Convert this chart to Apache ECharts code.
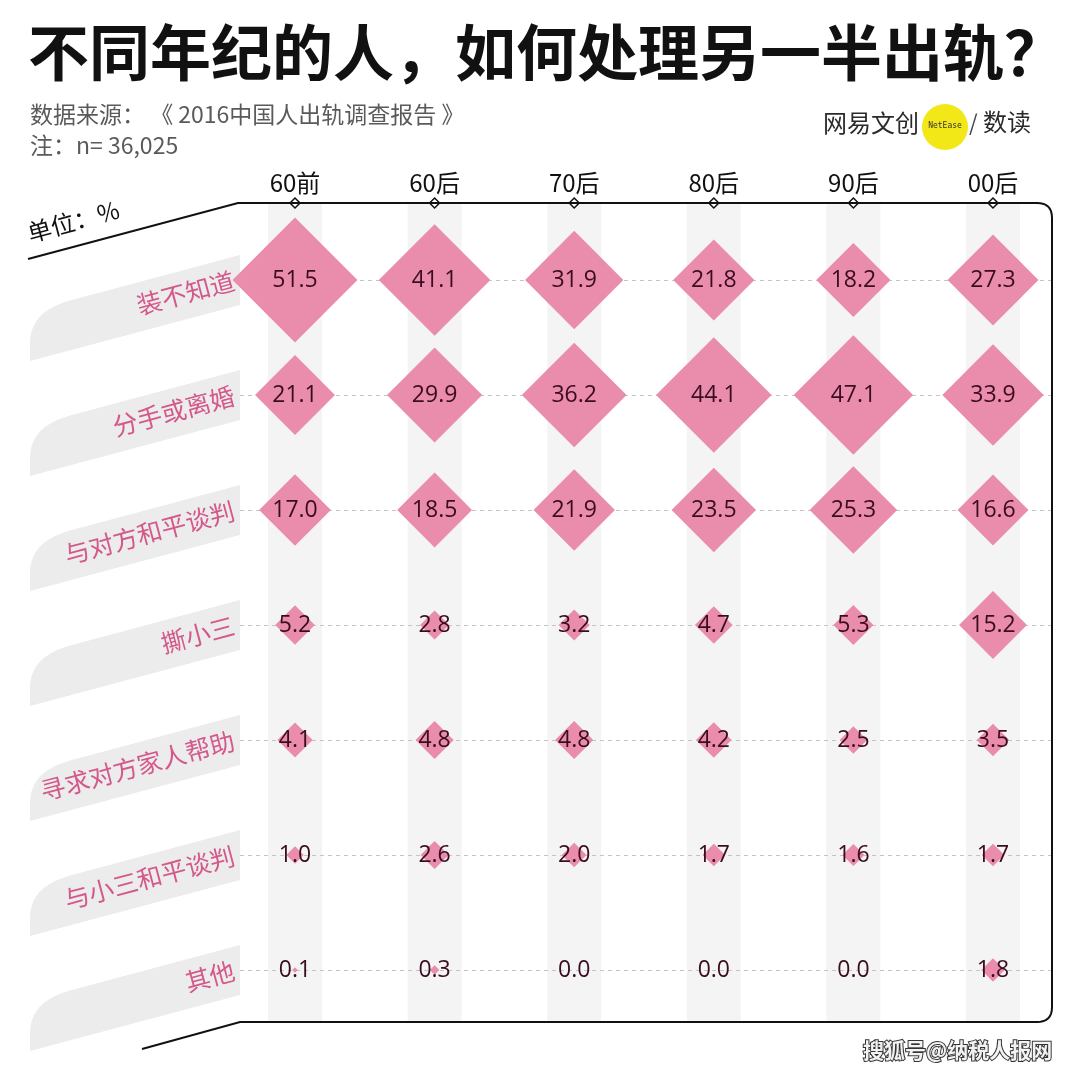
<!DOCTYPE html>
<html><head><meta charset="utf-8">
<script src="https://cdn.jsdelivr.net/npm/echarts@6/dist/echarts.min.js"></script>
<style>html,body{margin:0;padding:0;background:#fff}#c{width:1080px;height:1076px}</style>
</head><body><div id="c"></div>
<script>
const generations = ['60前','60后','70后','80后','90后','00后'];
const responses = ['装不知道','分手或离婚','与对方和平谈判','撕小三','寻求对方家人帮助','与小三和平谈判','其他'];
const pretend   = [51.5, 41.1, 31.9, 21.8, 18.2, 27.3];
const breakup   = [21.1, 29.9, 36.2, 44.1, 47.1, 33.9];
const negotiate = [17.0, 18.5, 21.9, 23.5, 25.3, 16.6];
const fight     = [5.2, 2.8, 3.2, 4.7, 5.3, 15.2];
const family    = [4.1, 4.8, 4.8, 4.2, 2.5, 3.5];
const talkThird = [1.0, 2.6, 2.0, 1.7, 1.6, 1.7];
const other     = [0.1, 0.3, 0.0, 0.0, 0.0, 1.8];
const rowValues = [pretend, breakup, negotiate, fight, family, talkThird, other];

const data = [];
rowValues.forEach((arr, r) => arr.forEach((v, c) => data.push([c, r, v])));

const FONT = '"Noto Sans CJK SC","Noto Sans",sans-serif';
const chart = echarts.init(document.getElementById('c'), null, {renderer: 'canvas'});

const option = {
  backgroundColor: '#fff',
  animation: false,
  textStyle: {fontFamily: FONT},
  grid: [
    {left: 225.2, right: 17.2, top: 280, bottom: 106},
    {left: 240, right: 28, top: 280, bottom: 106}
  ],
  xAxis: [
    {type: 'category', gridIndex: 0, data: generations, position: 'top', offset: 77,
     axisLine: {show: false}, axisTick: {show: false},
     axisLabel: {color: '#111', fontSize: 24, margin: 8, fontFamily: FONT}},
    {type: 'value', gridIndex: 1, show: false, min: 0, max: 1}
  ],
  yAxis: [
    {type: 'category', gridIndex: 0, data: responses, inverse: true, boundaryGap: false, show: false},
    {type: 'category', gridIndex: 1, data: responses, inverse: true, boundaryGap: false,
     axisLine: {show: false}, axisTick: {show: false},
     axisLabel: {color: '#d4588a', fontSize: 25, rotate: 15, margin: 6, interval: 0, fontFamily: FONT},
     splitLine: {show: true, interval: 0, lineStyle: {color: '#c4c4c4', type: [4, 4], width: 1}}}
  ],
  series: [{
    type: 'scatter', xAxisIndex: 0, yAxisIndex: 0,
    symbol: 'diamond',
    symbolSize: v => 17.4 * Math.sqrt(v[2]),
    itemStyle: {color: '#ea8cab', opacity: 1},
    label: {show: true, position: 'inside', formatter: p => p.value[2].toFixed(1),
            color: '#3a0c20', fontSize: 23, fontFamily: '"Open Sans","Noto Sans",sans-serif'},
    emphasis: {disabled: true},
    z: 5,
    data: data
  }]
};
chart.setOption(option);

function quad(p0, c, p1, n) {
  const pts = [];
  for (let k = 0; k <= n; k++) {
    const t = k / n, a = (1 - t) * (1 - t), b = 2 * (1 - t) * t, d = t * t;
    pts.push([a * p0[0] + b * c[0] + d * p1[0], a * p0[1] + b * c[1] + d * p1[1]]);
  }
  return pts;
}

const g = [];
// column bands
generations.forEach((_, i) => {
  const x = chart.convertToPixel({gridIndex: 0}, [i, 0])[0];
  g.push({type: 'rect', z: -20, silent: true, shape: {x: x - 27, y: 203, width: 54, height: 819}, style: {fill: '#f4f4f4'}});
  g.push({type: 'polygon', z: 20, silent: true, shape: {points: [[x, 198], [x + 5, 203], [x, 208], [x - 5, 203]]},
          style: {fill: '#fff', stroke: '#111', lineWidth: 1.5}});
});
// row label backgrounds
responses.forEach((_, j) => {
  const y = chart.convertToPixel({gridIndex: 0}, [0, j])[1];
  const tr = y - 25, br = y + 25, bl = y + 81;
  const slope = Math.tan(15 * Math.PI / 180);
  const topAt = x => tr + (240 - x) * slope;
  const pts = [[240, tr], [70, topAt(70)]]
    .concat(quad([70, topAt(70)], [30, topAt(30)], [30, topAt(30) + 32], 10))
    .concat([[30, bl], [240, br]]);
  g.push({type: 'polygon', z: -20, silent: true, shape: {points: pts}, style: {fill: '#ececec'}});
});
// frame
const framePts = [[28, 259], [238, 203], [1037, 203]]
  .concat(quad([1037, 203], [1052, 203], [1052, 218], 8))
  .concat([[1052, 1007]])
  .concat(quad([1052, 1007], [1052, 1022], [1037, 1022], 8))
  .concat([[240, 1022], [142, 1049]]);
g.push({type: 'polyline', z: 20, silent: true, shape: {points: framePts}, style: {fill: null, stroke: '#111', lineWidth: 2}});
// titles
g.push({type: 'text', z: 20, left: 28, top: 22, style: {text: '不同年纪的人，如何处理另一半出轨？', fontSize: 61, fontWeight: 'bold', fill: '#111', fontFamily: FONT}});
g.push({type: 'text', z: 20, left: 30, top: 103, style: {text: '数据来源： 《 2016中国人出轨调查报告 》', fontSize: 23, fill: '#5a5a5a', fontFamily: FONT}});
g.push({type: 'text', z: 20, left: 30, top: 134, style: {text: '注：n= 36,025', fontSize: 23, fill: '#5a5a5a', fontFamily: FONT}});
g.push({type: 'text', z: 20, x: 31, y: 245, rotation: 15 * Math.PI / 180,
  style: {text: '单位：%', fontSize: 24, fill: '#111', fontFamily: FONT, verticalAlign: 'bottom'}});
// logo
g.push({type: 'circle', z: 19, shape: {cx: 945, cy: 127, r: 23}, style: {fill: '#f3e817'}});
g.push({type: 'text', z: 20, left: 823, top: 111, style: {text: '网易文创', fontSize: 24, fill: '#2a2a2a', fontFamily: FONT}});
g.push({type: 'text', z: 20, x: 945, y: 126, style: {text: 'NetEase', fontSize: 8, fill: '#333', fontFamily: 'DejaVu Sans Mono', align: 'center', verticalAlign: 'middle'}});
g.push({type: 'text', z: 20, left: 969, top: 112, style: {text: '/', fontSize: 22, fill: '#444', fontFamily: FONT}});
g.push({type: 'text', z: 20, left: 983, top: 110, style: {text: '数读', fontSize: 24, fill: '#2a2a2a', fontFamily: FONT}});
// watermark
g.push({type: 'text', z: 20, left: 862, top: 1039, style: {text: '搜狐号@纳税人报网', fontSize: 21, fill: '#f2f2f2', stroke: '#333', lineWidth: 2, fontFamily: FONT, fontWeight: 'bold'}});

chart.setOption({graphic: {elements: g}});
</script>
</body></html>
